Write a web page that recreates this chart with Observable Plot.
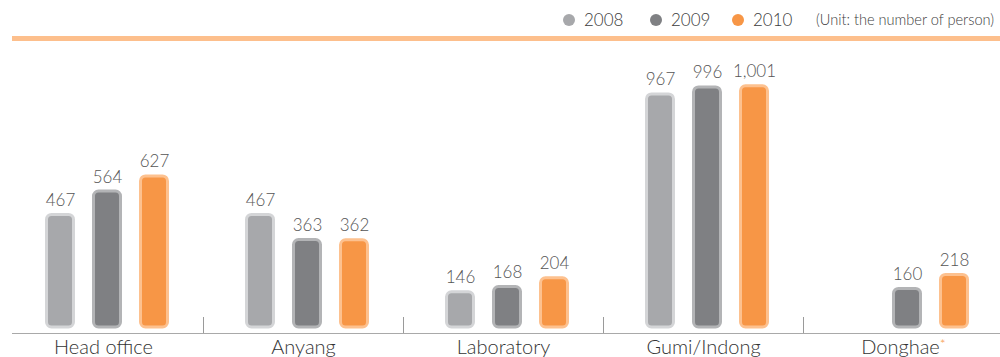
<!DOCTYPE html>
<html>
<head>
<meta charset="utf-8">
<script src="https://cdn.jsdelivr.net/npm/d3@7"></script>
<script src="https://cdn.jsdelivr.net/npm/@observablehq/plot@0.6"></script>
<style>
  html, body { margin: 0; padding: 0; background: #fff; }
  body { width: 1000px; font-family: Lato, "Liberation Sans", Arial, sans-serif; font-weight: 300; }
  #header { position: relative; height: 41px; }
  #header .rule { position: absolute; left: 12px; top: 36px; width: 988px; height: 5px; background: #fdbf8c; }
  #header .dot { position: absolute; width: 12px; height: 12px; border-radius: 50%; top: 14px; }
  #header .lab { position: absolute; top: 11px; font-size: 17px; line-height: 17px; color: #3c3c3c; white-space: nowrap; }
  #header .unit { position: absolute; top: 12px; left: 816px; font-size: 14.6px; line-height: 15px; color: #3c3c3c; white-space: nowrap; }
</style>
</head>
<body>
<div id="header"></div>
<div id="chart"></div>
<script>
// Employees per site, 2008–2010
const categories = ["Head office", "Anyang", "Laboratory", "Gumi/Indong", "Donghae"];
const years = ["2008", "2009", "2010"];
const values2008 = [467, 467, 146, 967, null];   // Donghae not yet operating in 2008
const values2009 = [564, 363, 168, 996, 160];
const values2010 = [627, 362, 204, 1001, 218];
const unitNote = "(Unit: the number of person)";

// Series styling
const fillColors = {"2008": "#a7a8ab", "2009": "#7f8083", "2010": "#f79646"};
const edgeColors = {"2008": "#d4d5d7", "2009": "#b3b4b6", "2010": "#fdc18f"};
// centre of each year's bar inside a 200px category band
const slotCentre = {"2008": 57, "2009": 104, "2010": 151};
const bandWidth = 200;
const barWidth = 27;

const seriesByYear = {"2008": values2008, "2009": values2009, "2010": values2010};
const rows = years.flatMap(year =>
  categories.map((category, i) => ({category, year, value: seriesByYear[year][i]}))
    .filter(d => d.value != null)
);

// Legend + orange header rule
const header = document.getElementById("header");
const legendSpots = [{dot: 563, text: 584}, {dot: 650, text: 671}, {dot: 732, text: 753}];
years.forEach((year, i) => {
  const dot = document.createElement("div");
  dot.className = "dot";
  dot.style.left = legendSpots[i].dot + "px";
  dot.style.background = fillColors[year];
  header.appendChild(dot);
  const lab = document.createElement("div");
  lab.className = "lab";
  lab.style.left = legendSpots[i].text + "px";
  lab.textContent = year;
  header.appendChild(lab);
});
const unit = document.createElement("div");
unit.className = "unit";
unit.textContent = unitNote;
header.appendChild(unit);
const rule = document.createElement("div");
rule.className = "rule";
header.appendChild(rule);

const fmt = d3.format(",");

const marks = [];
for (const year of years) {
  const data = rows.filter(d => d.year === year);
  const c = slotCentre[year];
  marks.push(
    Plot.barY(data, {
      x: "category",
      y: "value",
      fill: fillColors[year],
      stroke: edgeColors[year],
      strokeWidth: 3,
      rx: 5,
      insetLeft: c - barWidth / 2,
      insetRight: bandWidth - c - barWidth / 2
    }),
    Plot.text(data, {
      x: "category",
      y: "value",
      text: d => fmt(d.value),
      dx: c - bandWidth / 2,
      dy: -9,
      lineAnchor: "bottom",
      fontSize: 17,
      fontWeight: 300,
      fill: "#555"
    })
  );
}
// baseline and separators between sites
marks.push(
  Plot.ruleY([0], {dy: 6, stroke: "#a9a9a9", strokeWidth: 1}),
  Plot.ruleX(categories.slice(0, -1), {x: d => d, dx: bandWidth / 2, stroke: "#9a9a9a", strokeWidth: 1, insetTop: 276})
);

const chart = Plot.plot({
  width: 1000,
  height: 316,
  marginTop: 0,
  marginLeft: 12,
  marginRight: 0,
  marginBottom: 24,
  style: {fontFamily: "Lato, 'Liberation Sans', Arial, sans-serif", fontWeight: 300, fontSize: "20px", color: "#333", background: "#fff", overflow: "visible"},
  x: {domain: categories, range: [3, 1003], padding: 0, tickSize: 0, tickPadding: 6, label: null},
  y: {domain: [0, 1000], range: [286, 45], axis: null},
  marks
});
document.getElementById("chart").appendChild(chart);

// orange footnote asterisk after Donghae
d3.select(chart).selectAll("text").filter(function () { return this.textContent === "Donghae"; })
  .append("tspan")
  .attr("fill", "#f79646")
  .attr("font-size", "14px")
  .attr("dy", "-0.35em")
  .text("*");
</script>
</body>
</html>
